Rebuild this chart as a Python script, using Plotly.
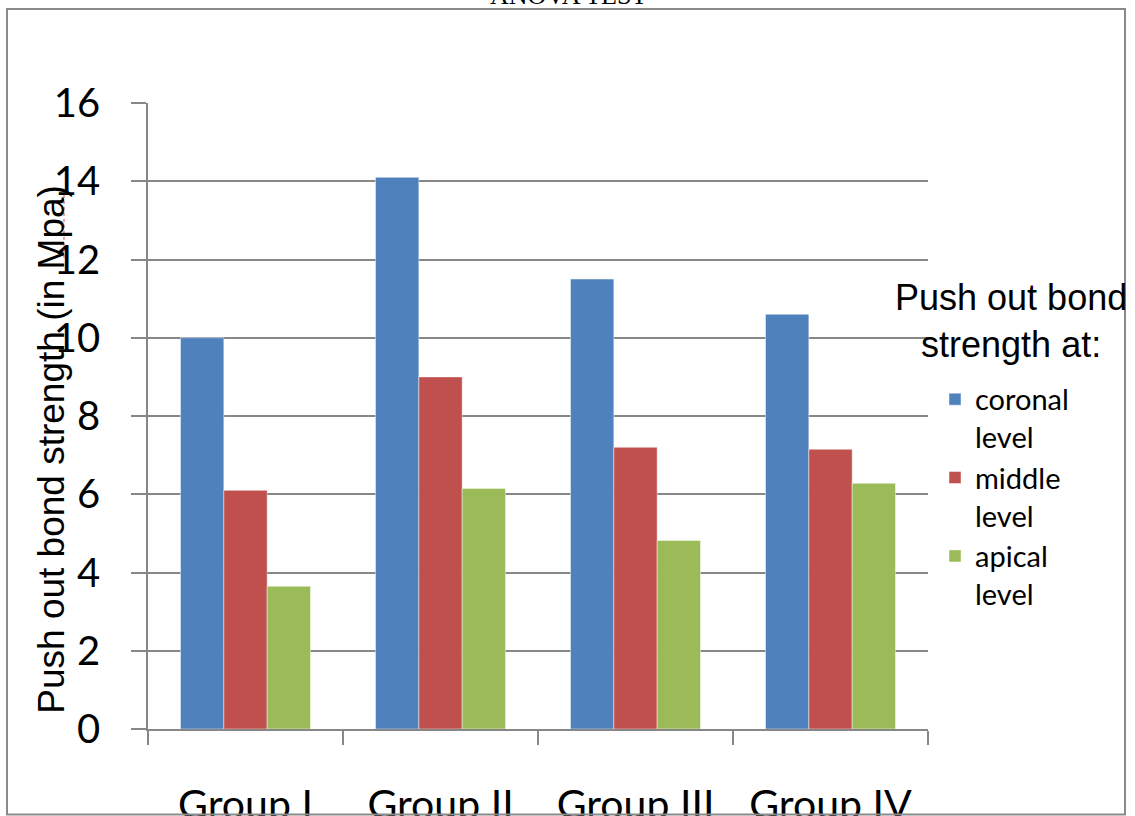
import plotly.graph_objects as go

# Push-out bond strength (MPa) per group and root level
groups = ["Group I", "Group II", "Group III", "Group IV"]
coronal = [10.0, 14.1, 11.5, 10.6]
middle = [6.1, 9.0, 7.2, 7.15]
apical = [3.65, 6.15, 4.82, 6.28]
y_ticks = [0, 2, 4, 6, 8, 10, 12, 14, 16]

series_names = ["coronal<br>level", "middle<br>level", "apical<br>level"]
series_colors = ["#4F81BD", "#C0504D", "#9BBB59"]

# page and plot-area geometry (pixels)
W, H = 1135, 816
X0, X1 = 148, 928
Y0, Y1 = 103, 729.5


def fx(p):
    return (p - X0) / (X1 - X0)


def fy(p):
    return (Y1 - p) / (Y1 - Y0)


AXIS_GREY = "#878787"

fig = go.Figure()
for name, vals, col in zip(series_names, [coronal, middle, apical], series_colors):
    fig.add_trace(go.Bar(
        x=groups, y=vals, name=name,
        marker=dict(color=col, line=dict(color="rgba(255,255,255,0.45)", width=1)),
    ))

fig.update_layout(
    width=W, height=H,
    margin=dict(l=X0, r=W - X1, t=Y0, b=H - Y1, pad=0, autoexpand=False),
    paper_bgcolor="white", plot_bgcolor="white",
    barmode="group", bargap=1 / 3, bargroupgap=0,
    font=dict(family="Lato", color="black"),
    showlegend=True,
    legend=dict(
        x=fx(935), xanchor="left", y=fy(374), yanchor="top",
        font=dict(family="Lato", size=29, color="black"),
        valign="top", tracegroupgap=4, itemwidth=30,
        bgcolor="rgba(0,0,0,0)",
    ),
    xaxis=dict(
        type="category", showgrid=False,
        showline=True, linecolor=AXIS_GREY, linewidth=1.5,
        ticks="outside", tickson="boundaries", ticklen=14,
        tickcolor=AXIS_GREY, tickwidth=1.5,
        tickfont=dict(family="Lato", size=41, color="black"),
        ticklabelstandoff=39, automargin=False,
    ),
    yaxis=dict(
        range=[0, 16], tickvals=y_ticks,
        showgrid=True, gridcolor=AXIS_GREY, gridwidth=1.5,
        showline=True, linecolor=AXIS_GREY, linewidth=1.5,
        ticks="outside", ticklen=15, tickcolor=AXIS_GREY, tickwidth=1.5,
        tickfont=dict(family="Lato", size=40, color="black"),
        ticklabelstandoff=23, zeroline=False, automargin=False,
    ),
)

annotations = [
    # chart title, mostly above the page edge
    dict(text="ANOVA TEST", xref="paper", yref="paper",
         x=fx(568), y=fy(-5), xanchor="center", yanchor="middle",
         showarrow=False,
         font=dict(family="Liberation Serif", size=26, color="black")),
    # y axis title
    dict(text="Push out bond strength (in Mpa)", xref="paper", yref="paper",
         x=fx(52), y=fy(450), xanchor="center", yanchor="middle",
         textangle=-90, showarrow=False,
         font=dict(family="Liberation Sans", size=37, color="black")),
    # legend heading
    dict(text="Push out bond<br>strength at:", xref="paper", yref="paper",
         x=fx(1011), y=fy(321), xanchor="center", yanchor="middle",
         align="center", showarrow=False,
         font=dict(family="Liberation Sans", size=36, color="black")),
]
fig.update_layout(annotations=annotations)

shapes = [
    # outer frame
    dict(type="rect", xref="paper", yref="paper",
         x0=fx(7), x1=fx(1125), y0=fy(815), y1=fy(9),
         line=dict(color="#8a8a8a", width=2), fillcolor="rgba(0,0,0,0)",
         layer="above"),
    # spell-check mark under "Mpa"
    dict(type="line", xref="paper", yref="paper",
         x0=fx(64), x1=fx(64), y0=fy(258), y1=fy(190),
         line=dict(color="#e04040", width=1, dash="dot")),
]
fig.update_layout(shapes=shapes)

fig.write_html("out.html")
